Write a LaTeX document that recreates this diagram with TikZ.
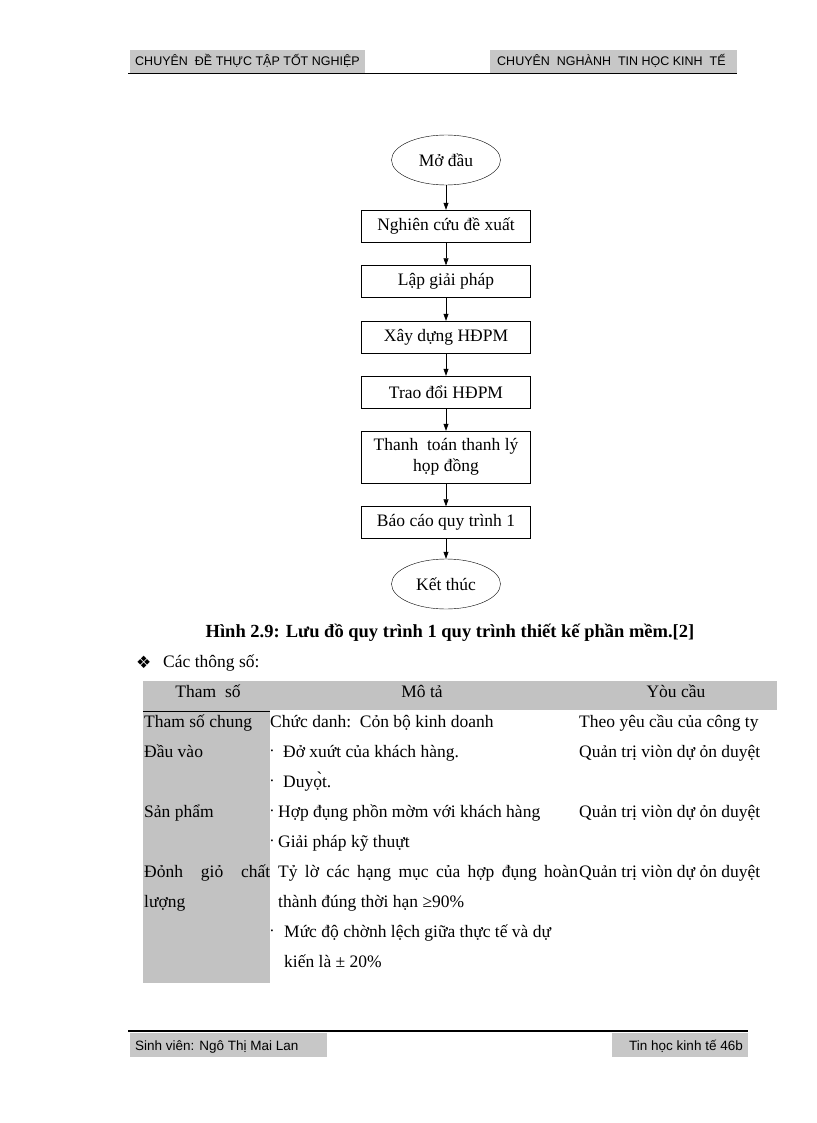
\documentclass[tikz,border=0pt]{standalone}
\usepackage{fontspec}
\setmainfont{Liberation Serif}
\newfontfamily\hdfont{Liberation Sans}
\newfontfamily\symfont{DejaVu Sans}
\usetikzlibrary{shapes.geometric,arrows.meta}

\newcommand{\bodysize}{\fontsize{17.5}{21}\selectfont}
\newcommand{\hdsize}{\hdfont\fontsize{12.5}{15}\selectfont}
\newcommand{\ftsize}{\hdfont\fontsize{13.5}{16}\selectfont}
\newcommand{\dotb}{{\fontsize{8}{9}\selectfont\textbullet}}

\tikzset{
	stepbox/.style={draw, minimum width=169pt, minimum height=32pt, inner sep=2pt, align=center, font=\bodysize},
	endcap/.style={draw, ellipse, minimum width=109pt, minimum height=50pt, inner sep=0pt, font=\bodysize},
	flow/.style={-{Triangle[length=7pt,width=5pt]}, semithick},
	cell/.style={anchor=base west, inner sep=0pt, font=\bodysize},
	headcell/.style={anchor=base, inner sep=0pt, font=\bodysize},
	strip/.style={anchor=base west, inner sep=0pt, font=\hdsize},
}

\begin{document}
\begin{tikzpicture}[x=1pt, y=-1pt]
	\useasboundingbox[fill=white] (0,0) rectangle (816,1123);
	% page header
	\fill[black!22] (130,50) rectangle (365,73);
	\fill[black!22] (490,50) rectangle (737,73);
	\draw[thin] (128,73.5) -- (737,73.5);
	\node[strip] (hleft) at (135,66) {CHUYÊN\ \ ĐỀ THỰC TẬP TỐT NGHIỆP};
	\node[strip] (hright) at (497,66) {CHUYÊN\ \ NGHÀNH\ \ TIN HỌC KINH\ \ TẾ};

	% flowchart
	\node[endcap] (start) at (446,160) {Mở đầu};
	\node[stepbox] (n1) at (446,226) {Nghiên cứu đề xuất};
	\node[stepbox] (n2) at (446,281.5) {Lập giải pháp};
	\node[stepbox] (n3) at (446,337) {Xây dựng HĐPM};
	\node[stepbox] (n4) at (446,392) {Trao đổi HĐPM};
	\node[stepbox, minimum height=52pt] (n5) at (446,457) {Thanh\ \ toán thanh lý\\họp đồng};
	\node[stepbox] (n6) at (446,522.5) {Báo cáo quy trình 1};
	\node[endcap] (stop) at (446,584) {Kết thúc};
	\foreach \a/\b in {start/n1,n1/n2,n2/n3,n3/n4,n4/n5,n5/n6,n6/stop}
	{
		\draw[flow] (\a) -- (\b);
	}

	\node[headcell, font=\fontsize{18.5}{22}\selectfont\bfseries] (caption) at (450,637) {Hình 2.9: Lưu đồ quy trình 1 quy trình thiết kế phần mềm.[2]};
	\node[cell, font=\symfont\fontsize{17}{18}\selectfont] (diam) at (136,668) {❖};
	\node[cell] (params) at (163,667) {Các thông số:};

	% table of parameters
	\fill[black!24] (143,681) rectangle (777,710);
	\fill[black!24] (143,710) rectangle (270,983);
	\draw[thin] (143,711) -- (270,711);
	\node[headcell] (h1) at (208,697) {Tham\ \ số};
	\node[headcell] (h2) at (422,697) {Mô tả};
	\node[headcell] (h3) at (676,697) {Yòu cầu};

	\node[cell] (r1a) at (144,727) {Tham số chung};
	\node[cell] (r1b) at (270,727) {Chức danh:\ \ Cỏn bộ kinh doanh};
	\node[cell] (r1c) at (579,727) {Theo yêu cầu của công ty};

	\node[cell] (r2a) at (144,757) {Đầu vào};
	\node[cell] (r2b) at (283,757) {Đở xuứt của khách hàng.};
	\node[cell] (r2c) at (579,757) {Quản trị viòn dự ỏn duyệt};
	\node[cell] (r3b) at (283,787) {Duyọ̀t.};

	\node[cell] (r4a) at (144,817) {Sản phẩm};
	\node[cell] (r4b) at (278,817) {Hợp đụng phồn mờm với khách hàng};
	\node[cell] (r4c) at (579,817) {Quản trị viòn dự ỏn duyệt};
	\node[cell] (r5b) at (278,847) {Giải pháp kỹ thuựt};

	\node[cell] (r6a) at (144,877) {\makebox[126pt][s]{Đỏnh giỏ chất}};
	\node[cell] (r6b) at (278,877) {\makebox[300pt][s]{Tỷ lờ các hạng mục của hợp đụng hoàn}};
	\node[cell] (r6c) at (579,877) {Quản trị viòn dự ỏn duyệt};
	\node[cell] (r7a) at (144,907) {lượng};
	\node[cell] (r7b) at (278,907) {thành đúng thời hạn ≥90\%};
	\node[cell] (r8b) at (284,937) {Mức\ độ\ chờnh\ lệch giữa thực tế và\ dự};
	\node[cell] (r9b) at (284,967) {kiến là ± 20\%};

	\foreach \y in {752,782,812,842,932}
	{
		\node[cell, anchor=center] at (272,\y) {\dotb};
	}

	% page footer
	\draw[line width=2pt] (128,1031) -- (748,1031);
	\fill[black!22] (130,1033) rectangle (327,1057);
	\fill[black!22] (612,1033) rectangle (748,1057);
	\node[strip, font=\ftsize] (fleft) at (135,1050) {Sinh viên: Ngô Thị Mai Lan};
	\node[strip, font=\ftsize, anchor=base east] (fright) at (743,1050) {Tin học kinh tế 46b};
\end{tikzpicture}
\end{document}
